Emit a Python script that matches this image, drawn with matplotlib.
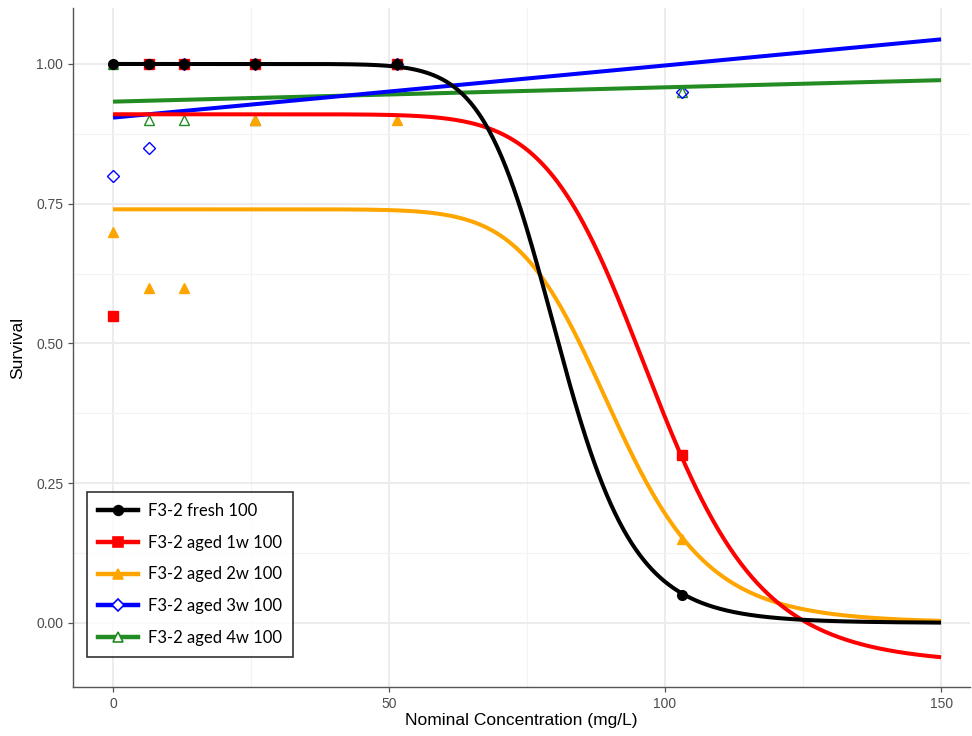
import numpy as np
import matplotlib
matplotlib.use('Agg')
import matplotlib.pyplot as plt
from matplotlib.lines import Line2D

# ==========================================
# data
# ==========================================
conc = [0, 6.44, 12.875, 25.75, 51.5, 103]

series_names = ['F3-2 fresh 100', 'F3-2 aged 1w 100', 'F3-2 aged 2w 100',
                'F3-2 aged 3w 100', 'F3-2 aged 4w 100']
surv_fresh = [1.00, 1.00, 1.00, 1.00, 1.00, 0.05]
surv_1w = [0.55, 1.00, 1.00, 1.00, 1.00, 0.30]
surv_2w = [0.70, 0.60, 0.60, 0.90, 0.90, 0.15]
surv_3w = [0.80, 0.85, 1.00, 1.00, 1.00, 0.95]
surv_4w = [1.00, 0.90, 0.90, 0.90, 1.00, 0.95]

# fitted log-logistic curves: top, bottom, EC50, slope
fit_fresh = [1.00, 0.00, 80.7, 11.8]
fit_1w = [0.91, -0.075, 98.0, 10.0]
fit_2w = [0.74, 0.00, 90.7, 10.5]
# straight-line fits: value at 0, value at 150
line_3w = [0.904, 1.044]
line_4w = [0.9326, 0.971]

colors = ['black', '#FF0000', '#FFA500', '#0000FF', '#228B22']
markers = ['o', 's', '^', 'D', '^']
filled = [True, True, True, False, False]


def loglogistic(x, p):
    top, bottom, ec50, slope = p
    return bottom + (top - bottom) / (1 + (x / ec50) ** slope)


# ==========================================
# figure
# ==========================================
plt.rcParams['font.family'] = ['Liberation Sans', 'DejaVu Sans']

fig = plt.figure(figsize=(9.72, 7.36), dpi=100)
ax = fig.add_axes([0.0751, 0.0666, 0.9229, 0.9226])

xs = np.linspace(0, 150, 600)
curves = [loglogistic(xs, fit_fresh), loglogistic(xs, fit_1w), loglogistic(xs, fit_2w),
          np.interp(xs, [0, 150], line_3w), np.interp(xs, [0, 150], line_4w)]
points = [surv_fresh, surv_1w, surv_2w, surv_3w, surv_4w]

# points (2w, 4w, 3w, 1w, fresh on top)
for i in [2, 4, 3, 1, 0]:
    ms = 6 if markers[i] == 'D' else 7
    ax.plot(conc, points[i], linestyle='none', marker=markers[i], markersize=ms,
            color=colors[i], markerfacecolor=colors[i] if filled[i] else 'none',
            markeredgewidth=1.0, zorder=3 + (4 - i) * 0.1)

for i in [4, 3, 2, 1, 0]:
    ax.plot(xs, curves[i], color=colors[i], linewidth=2.9, zorder=4, solid_capstyle='butt')

ax.set_xlim(-7.25, 155.25)
ax.set_ylim(-0.1145, 1.1002)
ax.set_xticks([0, 50, 100, 150])
ax.set_xticks([25, 75, 125], minor=True)
ax.set_yticks([0, 0.25, 0.5, 0.75, 1.0])
ax.set_yticklabels(['0.00', '0.25', '0.50', '0.75', '1.00'])
ax.set_yticks([0.125, 0.375, 0.625, 0.875], minor=True)

ax.grid(True, which='major', color='#EBEBEB', linewidth=1.3, zorder=0)
ax.grid(True, which='minor', color='#F3F3F3', linewidth=0.8, zorder=0)
ax.set_axisbelow(True)

for s in ['top', 'right']:
    ax.spines[s].set_visible(False)
for s in ['left', 'bottom']:
    ax.spines[s].set_color('#555555')
    ax.spines[s].set_linewidth(1.0)
ax.tick_params(which='major', length=3.5, width=0.9, color='#555555',
               labelcolor='#4D4D4D', labelsize=10)
ax.tick_params(which='minor', length=0)

ax.set_xlabel('Nominal Concentration (mg/L)', fontsize=12.5, labelpad=2)
ax.set_ylabel('Survival', fontsize=12.5, labelpad=8)

handles = []
for i in range(5):
    handles.append(Line2D([0], [0], color=colors[i], linewidth=3.2, marker=markers[i],
                          markersize=6 if markers[i] == 'D' else 7,
                          markerfacecolor=colors[i] if filled[i] else 'white',
                          markeredgewidth=1.2))
leg = ax.legend(handles, series_names, loc='lower left', bbox_to_anchor=(0.0156, 0.0442),
                borderaxespad=0, frameon=True, fancybox=False, edgecolor='black',
                handlelength=2.4, handletextpad=0.6, labelspacing=0.95,
                borderpad=0.65, prop={'family': 'Lato', 'size': 12})
leg.get_frame().set_linewidth(1.2)
leg.set_zorder(10)

plt.savefig('out.png', dpi=100)
plt.close()
